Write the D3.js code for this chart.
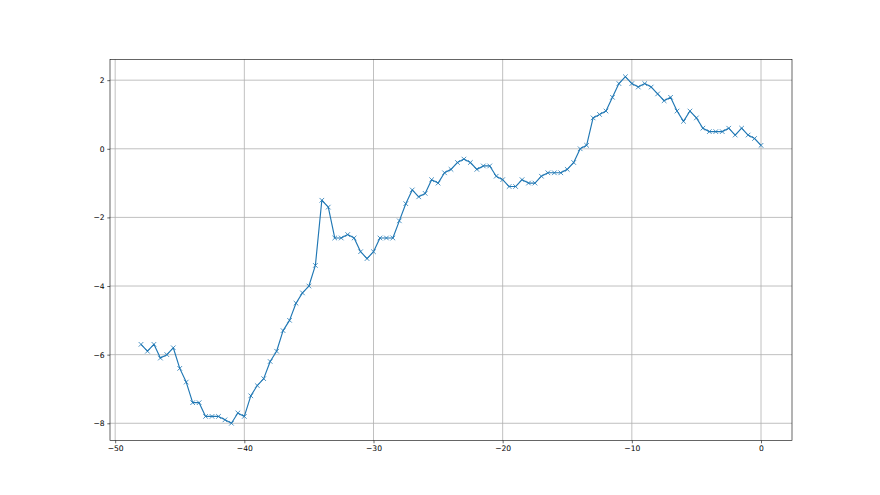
<!DOCTYPE html>
<html><head><meta charset="utf-8">
<script src="https://cdn.jsdelivr.net/npm/d3@7"></script>
<style>body{margin:0;background:#fff}svg{display:block}text{font-family:"DejaVu Sans",sans-serif}</style>
</head><body><svg id="c" width="880" height="495"></svg>
<script>
const xValues = [-48,-47.5,-47,-46.5,-46,-45.5,-45,-44.5,-44,-43.5,-43,-42.5,-42,-41.5,-41,-40.5,-40,-39.5,-39,-38.5,-38,-37.5,-37,-36.5,-36,-35.5,-35,-34.5,-34,-33.5,-33,-32.5,-32,-31.5,-31,-30.5,-30,-29.5,-29,-28.5,-28,-27.5,-27,-26.5,-26,-25.5,-25,-24.5,-24,-23.5,-23,-22.5,-22,-21.5,-21,-20.5,-20,-19.5,-19,-18.5,-18,-17.5,-17,-16.5,-16,-15.5,-15,-14.5,-14,-13.5,-13,-12.5,-12,-11.5,-11,-10.5,-10,-9.5,-9,-8.5,-8,-7.5,-7,-6.5,-6,-5.5,-5,-4.5,-4,-3.5,-3,-2.5,-2,-1.5,-1,-0.5,0];
const yValues = [-5.7,-5.9,-5.7,-6.1,-6.0,-5.8,-6.4,-6.8,-7.4,-7.4,-7.8,-7.8,-7.8,-7.9,-8.0,-7.7,-7.8,-7.2,-6.9,-6.7,-6.2,-5.9,-5.3,-5.0,-4.5,-4.2,-4.0,-3.4,-1.5,-1.7,-2.6,-2.6,-2.5,-2.6,-3.0,-3.2,-3.0,-2.6,-2.6,-2.6,-2.1,-1.6,-1.2,-1.4,-1.3,-0.9,-1.0,-0.7,-0.6,-0.4,-0.3,-0.4,-0.6,-0.5,-0.5,-0.8,-0.9,-1.1,-1.1,-0.9,-1.0,-1.0,-0.8,-0.7,-0.7,-0.7,-0.6,-0.4,0.0,0.1,0.9,1.0,1.1,1.5,1.9,2.1,1.9,1.8,1.9,1.8,1.6,1.4,1.5,1.1,0.8,1.1,0.9,0.6,0.5,0.5,0.5,0.6,0.4,0.6,0.4,0.3,0.1];
const xTicks = [-50,-40,-30,-20,-10,0];
const yTicks = [-8,-6,-4,-2,0,2];

const svg = d3.select("#c");
const L=110, R=792, T=59.4, B=440.6;
const xmin=d3.min(xValues), xmax=d3.max(xValues), ymin=d3.min(yValues), ymax=d3.max(yValues);
const xm=(xmax-xmin)*0.05, ym=(ymax-ymin)*0.05;
const x=d3.scaleLinear().domain([xmin-xm,xmax+xm]).range([L,R]);
const y=d3.scaleLinear().domain([ymin-ym,ymax+ym]).range([B,T]);
const fmt = d => d3.format("d")(d).replace("-","\u2212");

// grid
const g=svg.append("g");
g.selectAll(".gx").data(xTicks).join("line").attr("x1",d=>x(d)).attr("x2",d=>x(d)).attr("y1",T).attr("y2",B).attr("stroke","#b0b0b0").attr("stroke-width",0.8);
g.selectAll(".gy").data(yTicks).join("line").attr("y1",d=>y(d)).attr("y2",d=>y(d)).attr("x1",L).attr("x2",R).attr("stroke","#b0b0b0").attr("stroke-width",0.8);

// line
const data=xValues.map((v,i)=>[v,yValues[i]]);
svg.append("path").datum(data).attr("fill","none").attr("stroke","#1f77b4").attr("stroke-width",1.15)
  .attr("stroke-linejoin","round").attr("d",d3.line().x(d=>x(d[0])).y(d=>y(d[1])));
const ms=2.3;
svg.append("g").selectAll("path").data(data).join("path")
  .attr("d",d=>`M${x(d[0])-ms},${y(d[1])-ms}L${x(d[0])+ms},${y(d[1])+ms}M${x(d[0])-ms},${y(d[1])+ms}L${x(d[0])+ms},${y(d[1])-ms}`)
  .attr("stroke","#1f77b4").attr("stroke-width",0.8).attr("fill","none");

// axes
const xa=svg.append("g").attr("transform",`translate(0,${B})`).call(d3.axisBottom(x).tickValues(xTicks).tickFormat(fmt).tickSizeInner(2.7).tickSizeOuter(0).tickPadding(2.7));
const ya=svg.append("g").attr("transform",`translate(${L},0)`).call(d3.axisLeft(y).tickValues(yTicks).tickFormat(fmt).tickSizeInner(2.7).tickSizeOuter(0).tickPadding(2.7));
[xa,ya].forEach(a=>{a.select(".domain").remove();a.selectAll("line").attr("stroke","#000").attr("stroke-width",0.6);
  a.selectAll("text").attr("fill","#000").style("font-size","7.6px").style("font-family","DejaVu Sans");});
svg.append("rect").attr("x",L).attr("y",T).attr("width",R-L).attr("height",B-T).attr("fill","none").attr("stroke","#000").attr("stroke-width",0.6);
</script></body></html>
